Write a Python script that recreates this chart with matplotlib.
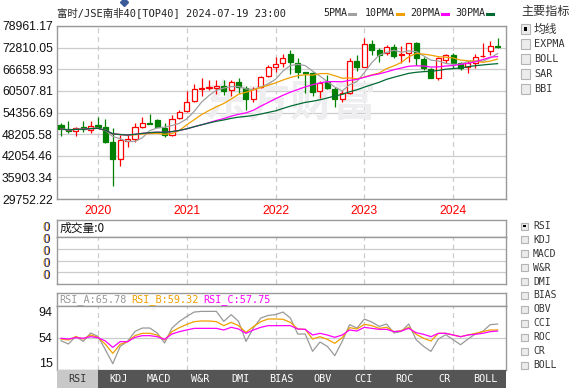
import numpy as np
import pandas as pd
import matplotlib
matplotlib.use('Agg')
import matplotlib.pyplot as plt
from matplotlib.patches import Rectangle
from matplotlib.lines import Line2D

# monthly candles, 2019-08 .. 2024-07
opens = [50827, 49603, 49118, 50172, 49403, 50827, 50172, 46071, 41059, 46270,
         46755, 50343, 51397, 52251, 49887, 47979, 52735, 54814, 57748, 60994,
         61279, 61279, 61934, 60795, 62988, 61450, 58232, 61564, 64782, 67431,
         68399, 70963, 68399, 65836, 65551, 60510, 63159, 60994, 58141, 60026,
         69054, 67431, 73896, 72187, 71418, 72956, 70763, 71247, 74096, 69624,
         66691, 64298, 69339, 70763, 68399, 67204, 68485, 70336, 71988, 73184]
highs = [51397, 51966, 50258, 51966, 51966, 53106, 52536, 49973, 47979, 47979,
         51311, 53106, 53875, 52450, 51311, 53675, 55099, 60510, 62504, 64127,
         63643, 63643, 63643, 63643, 64298, 61934, 61735, 64868, 67915, 70279,
         70963, 72187, 69823, 65921, 66007, 63444, 65067, 61564, 60795, 69823,
         70763, 75519, 75035, 72842, 73611, 73896, 73412, 74150, 74551, 70279,
         66975, 70279, 70906, 71247, 68854, 69054, 70963, 74096, 74835, 75690]
lows = [47694, 48549, 47808, 48919, 48549, 49973, 45786, 33540, 39150, 44647,
        46071, 49887, 51100, 50172, 47495, 47694, 52450, 54444, 57292, 59172,
        60795, 59656, 59371, 59172, 59855, 55099, 57292, 61279, 64412, 66007,
        67260, 65266, 64127, 59855, 59086, 58431, 61080, 56039, 57292, 59570,
        66292, 67260, 70763, 68854, 70763, 69994, 68399, 68854, 67915, 66491,
        64127, 63643, 68485, 66975, 66491, 65722, 66975, 70194, 70763, 72671]
closes = [49688, 49118, 49887, 49603, 50628, 50172, 46071, 41059, 46555, 46755,
          50172, 51311, 51197, 50343, 47979, 52450, 54444, 57463, 60994, 61279,
          61735, 61934, 60596, 62988, 61564, 58232, 60994, 64412, 67260, 68114,
          69994, 68854, 66007, 65551, 60311, 62703, 61279, 58141, 60026, 69054,
          67431, 73896, 72187, 70763, 72956, 70564, 70963, 74096, 69823, 66975,
          64298, 69823, 70621, 68570, 66975, 68485, 70108, 70564, 73327, 73042]

rsi_a = [49.1, 44.0, 55.8, 48.0, 61.0, 55.8, 35.1, 13.5, 40.3, 48.0,
         63.5, 68.7, 68.7, 61.0, 45.5, 68.7, 79.0, 86.7, 93.5, 94.5,
         94.5, 94.5, 79.0, 89.4, 79.0, 48.0, 68.7, 84.2, 88.3, 89.4,
         93.5, 84.2, 59.4, 59.4, 32.6, 47.0, 40.3, 25.9, 48.0, 73.9,
         68.7, 82.6, 78.0, 71.2, 74.9, 61.0, 63.5, 74.9, 50.6, 40.3,
         32.6, 51.7, 58.4, 50.6, 42.9, 51.7, 59.4, 63.5, 73.9, 74.9]
rsi_b = [51.7, 50.2, 55.3, 51.7, 57.9, 54.3, 43.5, 29.5, 43.5, 47.6,
         56.9, 60.5, 60.5, 57.9, 50.2, 63.1, 69.3, 74.4, 78.6, 79.6,
         79.6, 78.6, 72.4, 77.5, 72.4, 62.0, 70.8, 78.6, 82.7, 82.7,
         82.2, 77.5, 67.2, 66.7, 51.7, 55.3, 51.2, 45.0, 53.8, 69.3,
         67.2, 74.4, 72.4, 68.2, 69.8, 63.1, 64.6, 69.8, 59.0, 52.8,
         48.6, 60.5, 60.5, 57.9, 55.3, 57.9, 60.5, 63.1, 65.7, 65.7]
rsi_c = [52.8, 51.7, 53.8, 52.8, 55.3, 53.8, 48.6, 38.8, 47.6, 47.6,
         54.3, 56.9, 56.9, 55.3, 51.2, 59.5, 63.1, 65.7, 68.2, 68.2,
         68.2, 68.2, 65.7, 69.8, 67.2, 60.5, 65.7, 69.8, 72.4, 72.4,
         72.4, 72.4, 67.2, 66.7, 57.9, 60.5, 57.9, 54.3, 57.9, 65.7,
         64.1, 69.8, 68.2, 66.7, 66.7, 63.1, 64.1, 68.2, 61.5, 59.0,
         55.3, 60.5, 60.5, 57.9, 55.3, 57.9, 59.0, 60.5, 63.1, 64.1]

title = '富时/JSE南非40[TOP40] 2024-07-19 23:00'
price_ticks = [29752.22, 35903.34, 42054.46, 48205.58, 54356.69,
               60507.81, 66658.93, 72810.05, 78961.17]
ma_names = ['5PMA', '10PMA', '20PMA', '30PMA']
ma_periods = [5, 10, 20, 30]
rsi_names = ['RSI_A:65.78', 'RSI_B:59.32', 'RSI_C:57.75']
rsi_ticks = [15, 54, 94]
vol_title = '成交量:0'
vol_labels = ['0', '0', '0', '0', '0']
main_menu = ['均线', 'EXPMA', 'BOLL', 'SAR', 'BBI']
ind_menu = ['RSI', 'KDJ', 'MACD', 'W&R', 'DMI', 'BIAS', 'OBV', 'CCI', 'ROC', 'CR', 'BOLL']

RED = '#ff0000'
GREEN = '#008000'
ma_colors = ['#a0a0a0', '#f0a000', '#ff00ff', '#006a33']
rsi_colors = ['#999999', '#f0a000', '#ff00ff']
GRID = '#cccccc'
FRAME = '#999999'

mono = ['DejaVu Sans Mono', 'Noto Sans CJK SC']
cjk = ['Noto Sans CJK SC', 'DejaVu Sans']
num = ['Liberation Sans', 'DejaVu Sans']

W, H = 571, 388

def box(x0, y0, x1, y1):
    return [x0 / W, 1 - y1 / H, (x1 - x0) / W, (y1 - y0) / H]

def fx(x):
    return x / W

def fy(y):
    return 1 - y / H

o = np.array(opens, float)
h = np.array(highs, float)
l = np.array(lows, float)
c = np.array(closes, float)
n = len(c)
x = np.arange(n)
months = pd.period_range('2019-08', periods=n, freq='M')
year_idx = np.where(months.month == 1)[0]
year_lab = [str(y) for y in months.year[year_idx]]
xlim = (-0.54, n + 0.14)

fig = plt.figure(figsize=(W / 100, H / 100), dpi=100)
fig.patch.set_facecolor('white')

def frame(a):
    for s in a.spines.values():
        s.set_color(FRAME)
        s.set_linewidth(1)

# ---- main price panel
ax = fig.add_axes(box(57, 26, 506, 199))
frame(ax)
ax.set_xlim(*xlim)
ax.set_ylim(price_ticks[0], price_ticks[-1])
ax.set_yticks(price_ticks)
ax.set_yticklabels(['%.2f' % v for v in price_ticks], family=num, fontsize=8.7, color='#111111')
ax.set_xticks(year_idx)
ax.set_xticklabels(year_lab, family=num, fontsize=8.7, color='#ff0000')
ax.tick_params(length=0, pad=3)
ax.tick_params(axis='x', pad=4)
ax.set_axisbelow(True)
ax.grid(axis='y', color=GRID, lw=0.9, ls='-')
ax.grid(axis='x', color=GRID, lw=0.9, ls=(0, (4, 3)))
ax.text(0.52, 0.55, '东方财富', transform=ax.transAxes, ha='center', va='center',
        family=cjk, fontsize=31, weight='bold', color='#eeeef0', zorder=1)

up = c >= o
ax.vlines(x, l, h, colors=np.where(up, RED, GREEN), lw=0.9, zorder=3)
ax.bar(x[up], (c - o)[up], bottom=o[up], width=0.68, facecolor='white',
       edgecolor=RED, lw=0.9, zorder=4)
ax.bar(x[~up], (o - c)[~up], bottom=c[~up], width=0.68, facecolor=GREEN,
       edgecolor=GREEN, lw=0.9, zorder=4)
s = pd.Series(c)
for p, col in zip(ma_periods, ma_colors):
    ax.plot(x, s.rolling(p, min_periods=1).mean(), color=col, lw=0.9, zorder=5)

# title and legend
fig.text(fx(57), fy(13), title, family=mono, fontsize=7.5, color='#222222', va='center')
leg_x = [323, 365, 410, 455]
for name, col, lx in zip(ma_names, ma_colors, leg_x):
    fig.text(fx(lx), fy(13.5), name, family=mono, fontsize=7.2, color='#222222', va='center')
    ex = lx + 6 * len(name) + 2
    fig.add_artist(Line2D([fx(ex), fx(ex + 6)], [fy(13.5), fy(13.5)], color=col, lw=2.2,
                          transform=fig.transFigure))
fig.add_artist(Line2D([fx(123.5)], [fy(1.5)], marker='D', ms=4.5, color='#3a5a9a',
                      transform=fig.transFigure))

# ---- volume panel
axvh = fig.add_axes(box(57, 220, 506, 237))
frame(axvh)
axvh.set_xticks([])
axvh.set_yticks([])
axvh.text(0.005, 0.5, vol_title, transform=axvh.transAxes, family=cjk, fontsize=8.5,
          va='center', color='#111111')
axv = fig.add_axes(box(57, 237, 506, 284))
frame(axv)
axv.set_xlim(*xlim)
axv.set_ylim(0, 4)
axv.set_xticks(year_idx)
axv.set_yticks([1, 2, 3])
axv.tick_params(length=0, labelbottom=False, labelleft=False)
axv.grid(axis='y', color=GRID, lw=0.9, ls='-')
axv.grid(axis='x', color=GRID, lw=0.9, ls=(0, (4, 3)))
for k, lab in enumerate(vol_labels):
    yy = 228 + 12 * k
    fig.text(fx(49.6), fy(yy), lab, family=num, fontsize=8.5, color='#f09000', ha='right', va='center')
    fig.text(fx(50.3), fy(yy), lab, family=num, fontsize=8.5, color='#1c3c9c', ha='right', va='center')

# ---- RSI panel
axrh = fig.add_axes(box(57, 293, 506, 306))
frame(axrh)
axrh.set_xticks([])
axrh.set_yticks([])
for name, col, tx in zip(rsi_names, rsi_colors, [59, 131, 203]):
    fig.text(fx(tx), fy(299.5), name, family=mono, fontsize=7.3, color=col, va='center')
axr = fig.add_axes(box(57, 306, 506, 370))
frame(axr)
axr.set_xlim(*xlim)
axr.set_ylim(3.70, 102.83)
axr.set_xticks(year_idx)
axr.set_yticks(rsi_ticks)
axr.set_yticklabels([str(v) for v in rsi_ticks], family=num, fontsize=9, color='#111111')
axr.tick_params(length=0, labelbottom=False, pad=3)
axr.grid(axis='x', color=GRID, lw=0.9, ls=(0, (4, 3)))
axr.axhline(rsi_ticks[1], color=GRID, lw=0.9, zorder=1)
for vals, col in zip([rsi_a, rsi_b, rsi_c], rsi_colors):
    axr.plot(x, vals, color=col, lw=0.9, zorder=3)

# ---- indicator tabs
axt = fig.add_axes(box(57, 370, 506, 388))
axt.set_xlim(0, len(ind_menu))
axt.set_ylim(0, 1)
axt.axis('off')
tab_cols = ['#c8c8c8'] + ['#555555'] * (len(ind_menu) - 1)
axt.bar(np.arange(len(ind_menu)), 1, width=1, align='edge', color=tab_cols)
for k, lab in enumerate(ind_menu):
    axt.text(k + 0.5, 0.5, lab, ha='center', va='center', family=mono, fontsize=7.3,
             color='#333333' if k == 0 else 'white')

# ---- right side menu
fig.text(fx(521), fy(11.5), '主要指标', family=cjk, fontsize=8.7, color='#333333', va='center')

def checkbox(bx, by, size, checked):
    fig.add_artist(Rectangle((fx(bx), fy(by + size)), size / W, size / H, transform=fig.transFigure,
                             facecolor='#ececec', edgecolor='#b4b4b4', lw=0.8))
    if checked:
        fig.add_artist(Rectangle((fx(bx + size * 0.3), fy(by + size * 0.7)), size * 0.4 / W,
                                 size * 0.4 / H, transform=fig.transFigure,
                                 facecolor='black', edgecolor='none'))

for k, lab in enumerate(main_menu):
    yy = 29 + 15 * k
    checkbox(521, yy - 4.5, 9, k == 0)
    fam = cjk if k == 0 else mono
    fig.text(fx(534), fy(yy), lab, family=fam, fontsize=8.5 if k == 0 else 7.3,
             color='#333333', va='center')
for k, lab in enumerate(ind_menu):
    yy = 226 + 13.9 * k
    checkbox(521, yy - 3.5, 7, k == 0)
    fig.text(fx(533), fy(yy), lab, family=mono, fontsize=7, color='#333333', va='center')

fig.savefig('out.png', dpi=100, facecolor='white')
